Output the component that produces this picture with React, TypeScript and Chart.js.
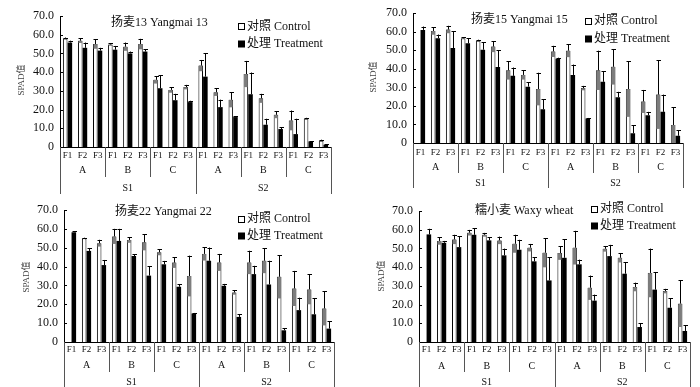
import React, { useEffect, useRef } from 'react';
import { Chart, registerables } from 'chart.js';

Chart.register(...registerables);

// ---------- data ----------
const fLabels = ['F1', 'F2', 'F3'];
const groupLabels = ['A', 'B', 'C'];
const stageLabels = ['S1', 'S2'];
const categories = stageLabels.flatMap((s) =>
  groupLabels.flatMap((g) => fLabels.map((f) => `${s}-${g}-${f}`))
);
const yTicks = [0, 10, 20, 30, 40, 50, 60, 70];
const seriesNames = ['对照 Control', '处理 Treatment'];
const yAxisTitle = 'SPAD值';

// 扬麦13 Yangmai 13
const ym13Control = [58.0, 56.8, 55.0, 54.8, 53.6, 55.0, 35.9, 30.5, 32.0, 43.5, 29.3, 25.2, 39.0, 26.0, 17.2, 14.2, 15.1, 3.4];
const ym13ControlSD = [0.5, 1.2, 2.5, 0.6, 2.2, 2.8, 2.0, 1.5, 1.2, 3.0, 2.0, 4.0, 7.0, 2.4, 1.8, 5.3, 0.5, 0.5];
const ym13Treatment = [55.8, 53.0, 51.5, 52.0, 50.0, 51.0, 31.4, 25.0, 24.0, 37.6, 21.3, 16.0, 28.2, 11.9, 9.6, 6.9, 3.0, 1.2];
const ym13TreatmentSD = [1.0, 2.8, 1.5, 2.0, 1.0, 1.2, 6.9, 3.4, 0.7, 12.5, 4.0, 0.5, 11.6, 3.2, 1.0, 8.2, 0.2, 0.2];

// 扬麦15 Yangmai 15
const ym15Control = [null, 60.4, 61.2, 56.5, 55.2, 52.0, 39.2, 36.7, 29.1, 49.4, 49.8, 29.6, 39.2, 41.1, 29.1, 22.4, 26.1, 9.7];
const ym15ControlSD = [0, 2.0, 2.0, 0.5, 0.5, 3.0, 5.0, 2.5, 8.8, 3.0, 3.5, 1.2, 10.6, 9.6, 15.0, 6.2, 18.5, 9.7];
const ym15Treatment = [61.0, 56.5, 51.2, 53.8, 50.3, 41.0, 36.2, 30.4, 18.2, 45.5, 36.7, 13.2, 33.0, 24.7, 5.3, 15.0, 16.8, 3.9];
const ym15TreatmentSD = [1.8, 2.0, 9.0, 2.7, 3.9, 9.0, 4.5, 2.3, 5.3, 0.5, 5.6, 0.3, 5.8, 2.9, 4.4, 1.8, 9.3, 3.1];

// 扬麦22 Yangmai 22
const ym22Control = [null, 55.0, 52.4, 56.0, 54.1, 52.9, 47.6, 42.1, 35.0, 46.7, 42.2, 26.3, 42.2, 43.1, 34.6, 28.4, 27.9, 17.8];
const ym22ControlSD = [0, 0.3, 1.8, 4.0, 1.5, 4.3, 1.6, 2.8, 10.8, 3.5, 4.5, 1.2, 6.2, 6.6, 11.5, 9.3, 7.9, 9.0];
const ym22Treatment = [58.2, 48.3, 40.8, 53.6, 45.6, 35.2, 41.2, 29.3, 15.1, 43.1, 29.8, 13.3, 36.0, 30.5, 6.2, 16.9, 14.7, 7.1];
const ym22TreatmentSD = [0.5, 1.4, 2.7, 6.4, 0.9, 5.1, 1.8, 1.2, 0.3, 7.0, 1.0, 1.5, 4.4, 12.6, 1.0, 6.6, 8.5, 4.0];

// 糯小麦 Waxy wheat
const waxyControl = [null, 54.0, 54.8, 58.4, 57.3, 54.3, 52.5, 50.4, 47.7, 47.5, 50.4, 29.0, 49.8, 45.0, 29.4, 36.9, 27.2, 20.5];
const waxyControlSD = [0, 2.0, 2.5, 1.5, 1.0, 2.0, 4.8, 2.0, 7.8, 3.6, 9.0, 6.5, 1.5, 2.5, 2.3, 13.0, 1.2, 12.5];
const waxyTreatment = [57.5, 53.0, 50.7, 57.3, 54.3, 46.3, 49.3, 43.1, 32.9, 45.0, 41.5, 22.1, 45.9, 36.5, 8.0, 28.0, 18.3, 5.9];
const waxyTreatmentSD = [3.0, 1.0, 5.9, 3.6, 1.8, 3.6, 5.3, 2.3, 12.5, 10.0, 2.5, 3.2, 6.0, 6.2, 2.1, 9.4, 5.2, 3.0];

// ---------- layout / style ----------
const FONT = '"Liberation Serif", "Times New Roman", "Noto Sans CJK SC", serif';

type Panel = {
  title: string;
  control: (number | null)[];
  controlSD: number[];
  treatment: number[];
  treatmentSD: number[];
  left: number; top: number; w: number; h: number;
  L: number; R: number; T: number; B: number;
  fOff: number; gOff: number; sOff: number; stageLineEnd: number;
  titleX: number; titleY: number;
  legX: number; legY1: number; legY2: number;
  yTitleX: number; yTitleY: number;
};

const panels: Panel[] = [
  {
    title: '扬麦13 Yangmai 13',
    control: ym13Control, controlSD: ym13ControlSD, treatment: ym13Treatment, treatmentSD: ym13TreatmentSD,
    left: 0, top: 0, w: 350, h: 195,
    L: 60, R: 331, T: 16, B: 147,
    fOff: 9, gOff: 23, sOff: 41, stageLineEnd: 47,
    titleX: 111, titleY: 23, legX: 238, legY1: 26.5, legY2: 44,
    yTitleX: 22, yTitleY: 80,
  },
  {
    title: '扬麦15 Yangmai 15',
    control: ym15Control, controlSD: ym15ControlSD, treatment: ym15Treatment, treatmentSD: ym15TreatmentSD,
    left: 350, top: 0, w: 350, h: 195,
    L: 63, R: 333, T: 11, B: 143,
    fOff: 9.5, gOff: 24, sOff: 40, stageLineEnd: 45,
    titleX: 121, titleY: 20, legX: 235, legY1: 21, legY2: 39,
    yTitleX: 24, yTitleY: 77,
  },
  {
    title: '扬麦22 Yangmai 22',
    control: ym22Control, controlSD: ym22ControlSD, treatment: ym22Treatment, treatmentSD: ym22TreatmentSD,
    left: 0, top: 195, w: 350, h: 192,
    L: 64, R: 334, T: 15, B: 147,
    fOff: 7.5, gOff: 23, sOff: 40, stageLineEnd: 45,
    titleX: 115, titleY: 17, legX: 238, legY1: 24, legY2: 41,
    yTitleX: 27, yTitleY: 82,
  },
  {
    title: '糯小麦 Waxy wheat',
    control: waxyControl, controlSD: waxyControlSD, treatment: waxyTreatment, treatmentSD: waxyTreatmentSD,
    left: 350, top: 195, w: 350, h: 192,
    L: 69, R: 340, T: 16, B: 147,
    fOff: 7.5, gOff: 24, sOff: 40, stageLineEnd: 45,
    titleX: 125, titleY: 16, legX: 241, legY1: 14, legY2: 31,
    yTitleX: 32, yTitleY: 81,
  },
];

function makeOverlay(p: Panel) {
  return {
    id: 'overlay',
    afterDatasetsDraw(chart: any) {
      const ctx = chart.ctx;
      const y = chart.scales.y;
      const sds = [p.controlSD, p.treatmentSD];
      ctx.save();
      chart.data.datasets.forEach((ds: any, di: number) => {
        const meta = chart.getDatasetMeta(di);
        meta.data.forEach((el: any, i: number) => {
          const v = ds.data[i];
          if (v === null || v === undefined) return;
          const sd = sds[di][i];
          const { x, width } = el.getProps(['x', 'width'], true);
          const yMean = y.getPixelForValue(v);
          const yTop = y.getPixelForValue(v + sd);
          const yLow = y.getPixelForValue(Math.max(0, v - sd));
          if (di === 0 && sd > 0) {
            ctx.fillStyle = '#7d7d7d';
            ctx.fillRect(x - width / 2 + 0.5, yMean, width - 1, yLow - yMean);
          }
          const cx = Math.round(x) + 0.5;
          ctx.strokeStyle = '#000';
          ctx.lineWidth = 1;
          ctx.beginPath();
          ctx.moveTo(cx, yMean);
          ctx.lineTo(cx, yTop);
          ctx.moveTo(cx - 2, Math.round(yTop) + 0.5);
          ctx.lineTo(cx + 2.5, Math.round(yTop) + 0.5);
          ctx.stroke();
        });
      });
      ctx.restore();
    },
    afterDraw(chart: any) {
      const ctx = chart.ctx;
      const xs = chart.scales.x;
      const ys = chart.scales.y;
      const area = chart.chartArea;
      const B = area.bottom;
      ctx.save();
      // inward y ticks
      ctx.strokeStyle = '#000';
      ctx.lineWidth = 1;
      ctx.beginPath();
      yTicks.forEach((t) => {
        if (t === 0) return;
        const py = Math.round(ys.getPixelForValue(t)) + 0.5;
        ctx.moveTo(area.left, py);
        ctx.lineTo(area.left + 3, py);
      });
      ctx.stroke();

      // category labels
      ctx.fillStyle = '#111';
      ctx.textAlign = 'center';
      ctx.textBaseline = 'middle';
      ctx.font = `9px ${FONT}`;
      categories.forEach((_c, i) => {
        ctx.fillText(fLabels[i % 3], xs.getPixelForValue(i), B + p.fOff);
      });
      ctx.font = `10px ${FONT}`;
      for (let g = 0; g < 6; g++) {
        const a = xs.getPixelForValue(g * 3);
        const b = xs.getPixelForValue(g * 3 + 2);
        ctx.fillText(groupLabels[g % 3], (a + b) / 2, B + p.gOff);
      }
      for (let s = 0; s < 2; s++) {
        const a = xs.getPixelForValue(s * 9);
        const b = xs.getPixelForValue(s * 9 + 8);
        ctx.fillText(stageLabels[s], (a + b) / 2, B + p.sOff);
      }
      // separators
      ctx.strokeStyle = '#555';
      ctx.beginPath();
      const boundary = (k: number) => {
        if (k === 0) return area.left;
        if (k === categories.length) return area.right;
        return (xs.getPixelForValue(k - 1) + xs.getPixelForValue(k)) / 2;
      };
      [3, 6, 12, 15].forEach((k) => {
        const bx = Math.round(boundary(k)) + 0.5;
        ctx.moveTo(bx, B);
        ctx.lineTo(bx, B + 30);
      });
      [0, 9, 18].forEach((k) => {
        const bx = Math.round(boundary(k)) + (k === 0 ? 0.5 : 0.5);
        ctx.moveTo(bx, B);
        ctx.lineTo(bx, B + p.stageLineEnd);
      });
      ctx.stroke();

      // title
      ctx.fillStyle = '#111';
      ctx.textAlign = 'left';
      ctx.font = `12px ${FONT}`;
      ctx.fillText(p.title, p.titleX, p.titleY);

      // legend
      const box = 7;
      ctx.fillStyle = '#fff';
      ctx.fillRect(p.legX, p.legY1 - box / 2, box, box);
      ctx.strokeStyle = '#000';
      ctx.strokeRect(Math.round(p.legX) + 0.5, Math.round(p.legY1 - box / 2) + 0.5, box - 1, box - 1);
      ctx.fillStyle = '#000';
      ctx.fillRect(p.legX, p.legY2 - box / 2, box, box);
      ctx.fillStyle = '#111';
      ctx.fillText(seriesNames[0], p.legX + box + 2, p.legY1);
      ctx.fillText(seriesNames[1], p.legX + box + 2, p.legY2);

      // y title
      ctx.save();
      ctx.translate(p.yTitleX, p.yTitleY);
      ctx.rotate(-Math.PI / 2);
      ctx.textAlign = 'center';
      ctx.fillStyle = '#444';
      ctx.font = `9px ${FONT}`;
      ctx.fillText(yAxisTitle, 0, 0);
      ctx.restore();

      ctx.restore();
    },
  };
}

function PanelChart({ p }: { p: Panel }) {
  const ref = useRef<HTMLCanvasElement>(null);
  useEffect(() => {
    if (!ref.current) return;
    const yWidth = 40;
    const chart = new Chart(ref.current, {
      type: 'bar',
      data: {
        labels: categories,
        datasets: [
          {
            label: seriesNames[0],
            data: p.control as any,
            backgroundColor: '#ffffff',
            borderColor: '#000000',
            borderWidth: 1,
            categoryPercentage: 0.62,
            barPercentage: 0.98,
          },
          {
            label: seriesNames[1],
            data: p.treatment,
            backgroundColor: '#000000',
            borderWidth: 0,
            categoryPercentage: 0.62,
            barPercentage: 0.98,
          },
        ],
      },
      options: {
        animation: false,
        responsive: false,
        devicePixelRatio: 1,
        layout: {
          padding: { left: p.L - yWidth, top: p.T, right: p.w - p.R, bottom: p.h - p.B },
        },
        plugins: {
          legend: { display: false },
          title: { display: false },
          tooltip: { enabled: false },
        },
        scales: {
          x: {
            type: 'category',
            ticks: { display: false },
            grid: { display: false },
            border: { display: true, color: '#000', width: 1 },
            afterFit: (s: any) => { s.height = 0; },
          },
          y: {
            min: 0,
            max: 70,
            afterBuildTicks: (s: any) => { s.ticks = yTicks.map((v) => ({ value: v })); },
            afterFit: (s: any) => { s.width = yWidth; },
            ticks: {
              color: '#111',
              padding: 6,
              font: { family: FONT, size: 12 },
              callback: (v: any) => (Number(v) === 0 ? '0' : Number(v).toFixed(1)),
            },
            grid: { display: false, drawTicks: false },
            border: { display: true, color: '#000', width: 1 },
          },
        },
      },
      plugins: [makeOverlay(p)],
    } as any);
    return () => chart.destroy();
  }, [p]);
  return (
    <canvas
      ref={ref}
      width={p.w}
      height={p.h}
      style={{ position: 'absolute', left: p.left, top: p.top, width: p.w, height: p.h }}
    />
  );
}

export default function App() {
  return (
    <div style={{ position: 'absolute', left: 0, top: 0, width: 700, height: 387, background: '#fff' }}>
      {panels.map((p, i) => (
        <PanelChart key={i} p={p} />
      ))}
    </div>
  );
}
